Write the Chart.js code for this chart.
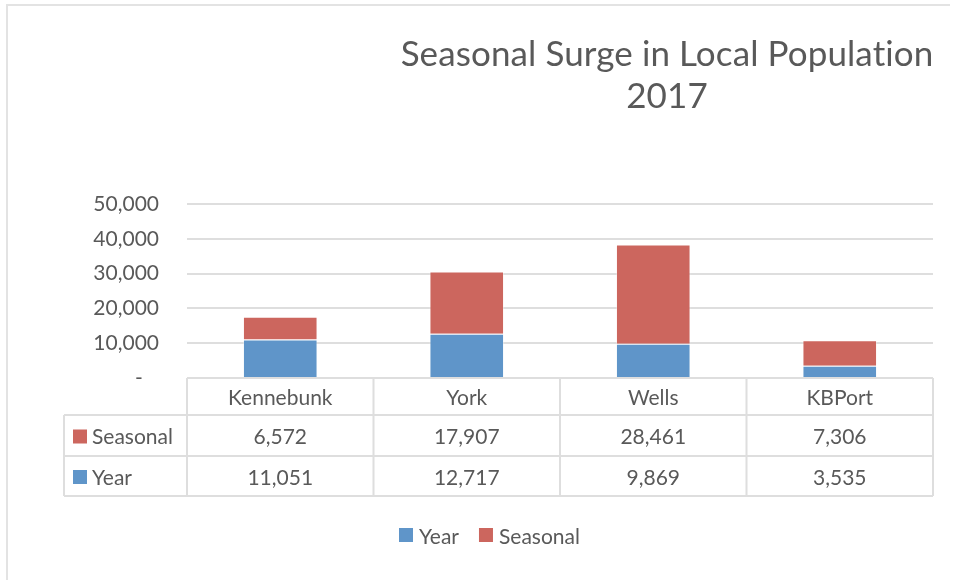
<!DOCTYPE html>
<html>
<head>
<meta charset="utf-8">
<script src="https://cdn.jsdelivr.net/npm/chart.js@4.4.1/dist/chart.umd.min.js"></script>
<style>
  body { margin: 0; background: #fff; }
  canvas { display: block; }
</style>
</head>
<body>
<canvas id="surgeChart" width="959" height="580"></canvas>
<script>
const categories = ['Kennebunk', 'York', 'Wells', 'KBPort'];
const yearValues = [11051, 12717, 9869, 3535];
const seasonalValues = [6572, 17907, 28461, 7306];
const yTicks = [0, 10000, 20000, 30000, 40000, 50000];
const titleLines = ['Seasonal Surge in Local Population', '2017'];

const BLUE = '#5f95c9';
const RED = '#cc665e';
const TEXT = '#595959';
const LINE = '#dedede';
const FONT = 'Lato, "Open Sans", sans-serif';

function fmt(v) {
  return v.toLocaleString('en-US');
}

// titre, cadre, tableau de données et légende dessinés à la main
const decorPlugin = {
  id: 'decor',
  afterDraw(chart) {
    const ctx = chart.ctx;
    const area = chart.chartArea;
    const x = chart.scales.x;
    const y = chart.scales.y;
    ctx.save();

    // cadre léger (haut + gauche)
    ctx.strokeStyle = '#e3e3e3';
    ctx.lineWidth = 2;
    ctx.beginPath();
    ctx.moveTo(7, 580);
    ctx.lineTo(7, 5);
    ctx.lineTo(950, 5);
    ctx.stroke();

    // titre
    ctx.fillStyle = TEXT;
    ctx.textAlign = 'center';
    ctx.textBaseline = 'middle';
    ctx.font = '35px ' + FONT;
    if ('letterSpacing' in ctx) ctx.letterSpacing = '0.1px';
    ctx.fillText(titleLines[0], 667, 55);
    ctx.fillText(titleLines[1], 667, 97);
    if ('letterSpacing' in ctx) ctx.letterSpacing = '0px';

    // tableau
    const top = y.getPixelForValue(0);
    const rows = [top, 415, 456, 496];
    const labelLeft = 64;
    const colW = (area.right - area.left) / categories.length;
    ctx.strokeStyle = LINE;
    ctx.lineWidth = 2;
    ctx.beginPath();
    ctx.moveTo(area.left, rows[0]);
    ctx.lineTo(area.right, rows[0]);
    for (let r = 1; r < rows.length; r++) {
      ctx.moveTo(labelLeft, rows[r]);
      ctx.lineTo(area.right, rows[r]);
    }
    for (let i = 0; i <= categories.length; i++) {
      const cx = area.left + i * colW;
      ctx.moveTo(cx, rows[0]);
      ctx.lineTo(cx, rows[3]);
    }
    ctx.moveTo(labelLeft, rows[1]);
    ctx.lineTo(labelLeft, rows[3]);
    ctx.stroke();

    ctx.font = '21px ' + FONT;
    ctx.fillStyle = TEXT;
    ctx.textAlign = 'center';
    categories.forEach((c, i) => {
      const cx = x.getPixelForValue(i);
      ctx.fillText(c, cx, (rows[0] + rows[1]) / 2 + 2);
      ctx.fillText(fmt(seasonalValues[i]), cx, (rows[1] + rows[2]) / 2 + 2);
      ctx.fillText(fmt(yearValues[i]), cx, (rows[2] + rows[3]) / 2 + 2);
    });

    const ds = chart.data.datasets;
    const tableRows = [ds[1], ds[0]];
    ctx.textAlign = 'left';
    tableRows.forEach((d, r) => {
      const cy = (rows[r + 1] + rows[r + 2]) / 2;
      ctx.fillStyle = d.backgroundColor;
      ctx.fillRect(73, cy - 6, 14, 14);
      ctx.fillStyle = TEXT;
      ctx.fillText(d.label, 92, cy + 2);
    });

    // légende
    let lx = 399;
    const ly = 535;
    ds.forEach(d => {
      ctx.fillStyle = d.backgroundColor;
      ctx.fillRect(lx, ly - 7, 14, 14);
      ctx.fillStyle = TEXT;
      ctx.fillText(d.label, lx + 20, ly + 2);
      lx += 20 + ctx.measureText(d.label).width + 20;
    });

    ctx.restore();
  }
};

const ctx = document.getElementById('surgeChart').getContext('2d');
const surgeChart = new Chart(ctx, {
  type: 'bar',
  data: {
    labels: categories,
    datasets: [
      {
        label: 'Year',
        data: yearValues,
        backgroundColor: BLUE,
        borderColor: 'rgba(255,255,255,0.35)',
        borderWidth: 1
      },
      {
        label: 'Seasonal',
        data: seasonalValues,
        backgroundColor: RED,
        borderColor: 'rgba(255,255,255,0.35)',
        borderWidth: 1
      }
    ]
  },
  options: {
    responsive: false,
    animation: false,
    layout: {
      padding: { top: 204, bottom: 202, left: 0, right: 26 }
    },
    datasets: {
      bar: { categoryPercentage: 1, barPercentage: 0.4 }
    },
    plugins: {
      legend: { display: false },
      title: { display: false },
      tooltip: { enabled: false }
    },
    scales: {
      x: {
        display: false,
        stacked: true
      },
      y: {
        stacked: true,
        min: 0,
        max: 50000,
        afterFit(scale) { scale.width = 187; },
        afterBuildTicks(scale) { scale.ticks = yTicks.map(v => ({ value: v })); },
        border: { display: false },
        grid: { color: LINE, lineWidth: 2, drawTicks: false },
        ticks: {
          padding: 28,
          color: TEXT,
          font: { family: FONT, size: 21 },
          callback: v => v === 0 ? '-   ' : fmt(v)
        }
      }
    }
  },
  plugins: [decorPlugin]
});
</script>
</body>
</html>
